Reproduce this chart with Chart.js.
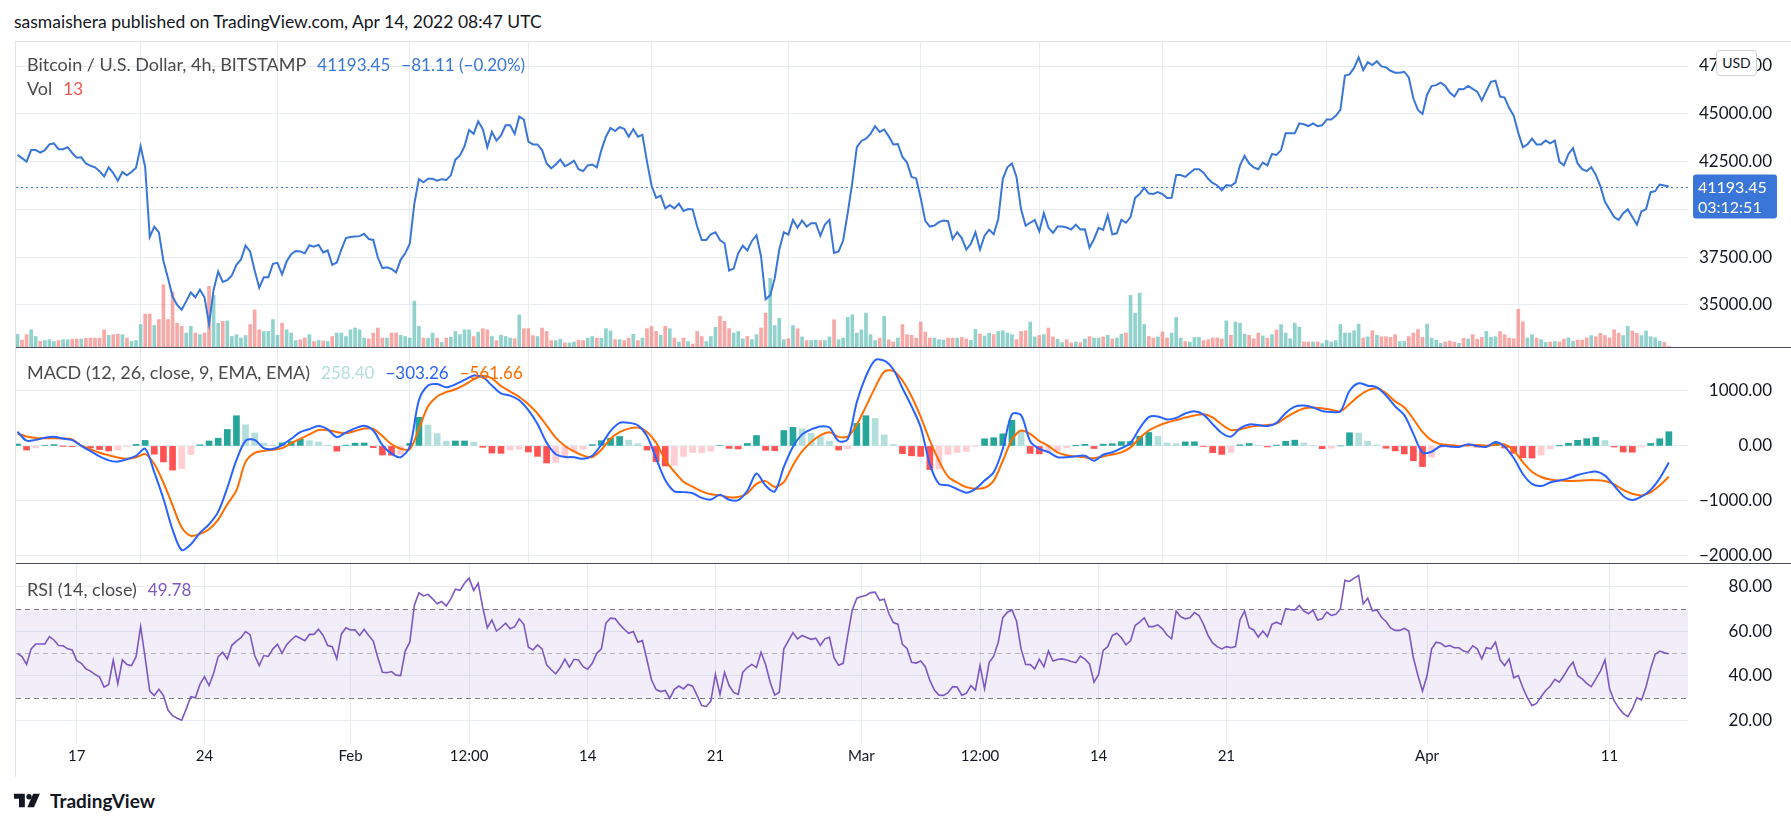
<!DOCTYPE html>
<html>
<head>
<meta charset="utf-8">
<script src="https://cdn.jsdelivr.net/npm/chart.js@4.4.1/dist/chart.umd.min.js"></script>
<style>
  html, body { margin: 0; padding: 0; background: #ffffff; }
  body { width: 1791px; height: 825px; position: relative; overflow: hidden;
         font-family: Lato, "Open Sans", sans-serif; color: #131722; }
  .abs { position: absolute; white-space: nowrap; }
  .pane { position: absolute; left: 16px; width: 1775px; }
  #frame { position: absolute; left: 15px; top: 41px; width: 1776px; height: 735px;
           border-left: 1px solid #e0e3eb; border-top: 1px solid #e0e3eb; }
  .sep { position: absolute; left: 16px; width: 1775px; height: 1px; background: #4a4e59; }
  .legend { font-size: 18px; line-height: 22px; color: #4a4a4a; }
  .legend span { margin-left: 11px; font-size: 17px; }
  #usd { position: absolute; left: 1716px; top: 50px; width: 41px; height: 26px; box-sizing: border-box;
         border: 1px solid #d1d4dc; border-radius: 4px; background: #fff; font-size: 14px;
         line-height: 24px; text-align: center; color: #131722; }
  #logo { position: absolute; left: 14px; top: 789px; display: flex; align-items: center; }
  #logo b { font-size: 19px; margin-left: 6px; color: #131722; }
</style>
</head>
<body>
<div class="abs" style="left:14px; top:11px; font-size:17.5px; line-height:22px; color:#131722;">sasmaishera published on TradingView.com, Apr 14, 2022 08:47 UTC</div>
<div id="frame"></div>

<div class="pane" style="top:41px; height:306px;"><canvas id="priceChart"></canvas></div>
<div class="sep" style="top:347px;"></div>
<div class="pane" style="top:348px; height:215px;"><canvas id="macdChart"></canvas></div>
<div class="sep" style="top:563px;"></div>
<div class="pane" style="top:564px; height:211px;"><canvas id="rsiChart"></canvas></div>

<div class="abs legend" style="left:27px; top:53px;">Bitcoin / U.S. Dollar, 4h, BITSTAMP<span style="color:#3a76d8">41193.45</span><span style="color:#3a76d8">−81.11 (−0.20%)</span></div>
<div class="abs legend" style="left:27px; top:77px;">Vol<span style="color:#ef5350">13</span></div>
<div class="abs legend" style="left:27px; top:361px;">MACD (12, 26, close, 9, EMA, EMA)<span style="color:#b2dfdb">258.40</span><span style="color:#2962ff">−303.26</span><span style="color:#ff6d00">−561.66</span></div>
<div class="abs legend" style="left:27px; top:578px;">RSI (14, close)<span style="color:#7e57c2">49.78</span></div>
<div id="usd">USD</div>

<div id="logo">
  <svg width="30" height="17" viewBox="0 0 36 20">
    <path d="M0 2h13v16H6V8H0z" fill="#131722"/>
    <circle cx="18" cy="5.5" r="3.2" fill="#131722"/>
    <path d="M23 2h8l-7 16h-8z" fill="#131722"/>
  </svg>
  <b>TradingView</b>
</div>

<script>
// Values. Time unit: days relative to Jan 17 2022 00:00 UTC.
// Price, volume and RSI are read every 6h, MACD every 12h.
const START_DAY = -3.25;
const STEP_FINE = 0.25;
const STEP_MACD = 0.5;
const X_MIN = -3.33;
const X_MAX = 88.3;

// time axis
const tickDays = [0, 7, 15, 21.5, 28, 35, 43, 49.5, 56, 63, 74, 84];
const tickLabels = ["17", "24", "Feb", "12:00", "14", "21", "Mar", "12:00", "14", "21", "Apr", "11"];

// right axes
const priceTicks = [35000, 37500, 40000, 42500, 45000, 47500];
const macdTicks = [-2000, -1000, 0, 1000];
const rsiTicks = [20, 40, 60, 80];
const rsiLevels = [30, 50, 70];
const lastPrice = 41193.45;

// BTC/USD close, 6h
const closes = [
  42850, 42680, 42500, 43100, 43100, 42970, 43100, 43400, 43450, 43150,
  43150, 43250, 42950, 42700, 42720, 42400, 42280, 42200, 42000, 41720,
  42200, 41900, 41500, 41950, 41780, 41950, 42180, 43300, 42200, 38550,
  39100, 38800, 37300, 36400, 35450, 35000, 34750, 35200, 35650, 35400,
  35800, 35400, 34000, 35800, 36750, 36200, 36300, 36550, 37100, 37380,
  38100, 37800, 36800, 35900, 36450, 36450, 37150, 37200, 36600, 37270,
  37650, 37820, 37800, 37700, 38120, 38050, 38150, 37750, 37850, 37100,
  37220, 37900, 38500, 38550, 38580, 38600, 38720, 38450, 38400, 37480,
  36930, 36970, 36880, 36700, 37360, 37700, 38200, 40300, 41580, 41420,
  41600, 41600, 41500, 41580, 41540, 41780, 42600, 42820, 43300, 44150,
  43950, 44600, 44200, 43250, 44050, 43600, 43870, 44400, 44400, 43950,
  44850, 44700, 43550, 43400, 43400, 43100, 42400, 42150, 42350, 42600,
  42260, 42380, 42550, 42100, 42000, 42300, 42350, 42200, 43100, 43800,
  44260, 44100, 44300, 44220, 43800, 44200, 43800, 43900, 42500, 41250,
  40600, 40720, 40050, 40220, 40050, 40300, 39920, 40020, 40000, 39100,
  38400, 38400, 38700, 38800, 38400, 38230, 36800, 36900, 37700, 38100,
  37850, 38350, 38650, 37550, 35300, 35500, 36400, 37900, 38800, 38680,
  39450, 39050, 39420, 39100, 39280, 39280, 38620, 39200, 39450, 37720,
  37800, 38370, 39800, 41400, 43250, 43580, 43700, 43950, 44350, 44050,
  44180, 43820, 43400, 43420, 42740, 42450, 41700, 41620, 40600, 39400,
  39100, 39150, 39330, 39420, 39380, 38450, 38800, 38500, 37900, 38200,
  38800, 37900, 38620, 38930, 38700, 39500, 41600, 42200, 42400, 41700,
  40000, 39150, 39300, 39440, 38850, 39800, 39050, 38770, 39100, 39100,
  39050, 38950, 39200, 38950, 38960, 38000, 38450, 39030, 38930, 39700,
  38700, 38750, 39450, 39300, 39600, 40600, 40800, 41130, 40830, 40810,
  40900, 40800, 40590, 40600, 41800, 41800, 41700, 41900, 42100, 42100,
  41920, 41600, 41380, 41250, 41000, 41270, 41230, 41400, 42300, 42800,
  42400, 42200, 42100, 42450, 42300, 42900, 42850, 43100, 43980, 43980,
  43980, 44500, 44450, 44360, 44500, 44350, 44400, 44700, 44700, 44890,
  45200, 47000, 47060, 47400, 47950, 47280, 47700, 47550, 47750, 47480,
  47430, 47250, 47150, 47150, 47200, 46900, 45800, 45200, 44990, 46000,
  46450, 46500, 46630, 46450, 46100, 45900, 46300, 46280, 46460, 46300,
  46160, 45700, 46200, 46670, 46730, 45900, 45850, 45300, 44900, 44000,
  43250, 43400, 43700, 43400, 43400, 43600, 43450, 43600, 42500, 42300,
  42900, 43200, 42400, 42100, 42000, 42200, 41800, 41200, 40400, 40000,
  39600, 39450, 39800, 40000, 39600, 39200, 39900, 40000, 40900, 40950,
  41300, 41250, 41193.45
];

// volume (BTC), 6h
const volumes = [
  275, 150, 270, 375, 230, 125, 140, 160, 120, 140,
  160, 160, 170, 175, 175, 190, 195, 195, 195, 375,
  255, 270, 280, 270, 195, 120, 140, 490, 720, 720,
  470, 600, 1360, 600, 1200, 520, 450, 305, 450, 305,
  270, 305, 1325, 1125, 520, 560, 570, 230, 270, 195,
  250, 490, 810, 375, 340, 340, 600, 255, 520, 375,
  305, 140, 160, 195, 270, 120, 140, 130, 120, 230,
  305, 305, 230, 375, 415, 375, 195, 175, 305, 415,
  195, 195, 305, 305, 255, 230, 195, 1000, 450, 195,
  195, 305, 195, 100, 195, 210, 340, 270, 375, 375,
  230, 325, 400, 375, 230, 140, 260, 230, 195, 180,
  700, 400, 400, 250, 230, 415, 340, 140, 140, 170,
  90, 90, 110, 150, 140, 195, 230, 195, 190, 400,
  350, 160, 160, 140, 195, 280, 140, 195, 400, 450,
  340, 255, 450, 400, 195, 110, 195, 120, 65, 340,
  230, 120, 230, 430, 670, 560, 400, 305, 340, 180,
  230, 160, 270, 415, 740, 1500, 470, 625, 160, 180,
  470, 400, 220, 140, 140, 150, 140, 140, 220, 595,
  160, 195, 645, 705, 305, 375, 740, 270, 140, 195,
  670, 160, 110, 195, 490, 270, 255, 195, 545, 325,
  195, 195, 160, 150, 195, 195, 195, 210, 175, 145,
  385, 280, 240, 300, 270, 340, 355, 305, 270, 160,
  340, 355, 545, 220, 250, 270, 415, 220, 170, 95,
  160, 90, 110, 95, 175, 225, 195, 195, 220, 255,
  175, 195, 280, 305, 1125, 740, 1175, 490, 230, 195,
  220, 330, 195, 305, 645, 195, 120, 110, 210, 210,
  140, 160, 195, 200, 175, 570, 255, 545, 520, 280,
  255, 180, 300, 240, 195, 270, 370, 490, 305, 180,
  520, 435, 110, 110, 110, 110, 75, 145, 110, 140,
  490, 305, 305, 355, 500, 195, 220, 355, 255, 225,
  225, 210, 270, 120, 120, 230, 305, 380, 210, 500,
  195, 145, 80, 110, 130, 110, 80, 190, 175, 270,
  170, 210, 340, 210, 225, 340, 270, 195, 180, 825,
  550, 195, 270, 195, 160, 100, 110, 120, 110, 175,
  200, 125, 150, 150, 200, 250, 225, 300, 250, 200,
  375, 300, 250, 450, 350, 300, 250, 350, 225, 200,
  125, 100, 13
];

// RSI (14, close), 6h
const rsi = [
  50, 48.5, 45, 52, 54.2, 54.2, 54.2, 57.5, 56, 53.5,
  53.4, 52, 51.5, 46.7, 45.5, 43, 42, 40.5, 39.3, 34.8,
  36, 47, 36.3, 47, 45, 44.5, 48.5, 62, 48, 33,
  31, 33.8, 31, 24.5, 22, 20.8, 19.9, 25, 30.5, 30,
  36, 39.5, 35.5, 41, 48.5, 50.5, 47.5, 53.6, 55.5, 57,
  59.8, 58.4, 49, 44.5, 49, 48.6, 52, 54, 50, 53.9,
  56, 57.8, 56.8, 55.7, 58.5, 58.5, 60.8, 58, 53.5, 53,
  47.5, 58.6, 61.5, 60.5, 60.6, 58, 60.8, 58, 55.5, 48,
  41.5, 41.3, 41.8, 40.2, 40, 51, 55, 71.5, 77.2, 75.8,
  76.5, 74.5, 72.3, 73.3, 71.3, 74.5, 78.8, 78.3, 81.5, 83.8,
  78.3, 81.5, 70.5, 61.5, 65, 60, 61.6, 63.5, 61, 62,
  65.5, 63, 52.7, 51.5, 53.8, 52, 44.8, 42.6, 40.8, 43.6,
  47.4, 43.8, 47.3, 47, 44, 42.8, 45.5, 50, 52, 63.6,
  65.8, 65.6, 63, 60.8, 59, 59.8, 55, 55.7, 47, 38,
  33.7, 32.8, 33.3, 29.7, 33.8, 35.3, 34, 36, 35.2, 31,
  26.5, 26.1, 28.5, 40.5, 31.5, 41.5, 35.5, 32.4, 31.5, 41.5,
  43.6, 45, 43.6, 50.5, 45, 37, 31.2, 32.5, 52, 55.7,
  59.3, 56.5, 58, 57.1, 56.3, 56.8, 53.5, 56.5, 57.2, 48,
  44.6, 45.5, 58, 69.5, 74.8, 75.5, 76, 77.3, 77.5, 73.8,
  74.3, 68, 63.8, 63.1, 54, 52.2, 46, 45.6, 46.5, 44,
  37.8, 33.5, 31.2, 31.1, 32.3, 35, 34.8, 31.2, 32, 35.5,
  33.5, 44.5, 34, 45.8, 48.7, 55, 66, 68.5, 69.5, 64.5,
  52, 45, 44.9, 43, 47.4, 44, 51, 46.5, 47.2, 47.5,
  47, 46.3, 45.8, 48.7, 47.4, 45.2, 37, 40.5, 51.3, 53,
  58, 59, 57, 53.8, 55.6, 62.5, 64, 66, 62, 62,
  62.8, 61, 58.2, 56.5, 69, 66.4, 65.5, 66, 68.3, 67,
  63, 58, 54.7, 53, 52, 53, 52.5, 53, 65.1, 69,
  61.5, 60.5, 57.3, 60, 57.5, 63, 64, 63, 70.1, 69.7,
  69.4, 71.5, 69, 67.8, 69.4, 65, 65.5, 68.5, 67, 67.5,
  70, 82.8, 82.3, 83.8, 85, 72.2, 74.8, 69.1, 69.5, 66.2,
  64.3, 61.4, 60.3, 60.3, 61.2, 60, 48, 40, 33, 40,
  52, 55, 54.5, 53, 53.5, 52.5, 52.5, 51, 50.5, 53.4,
  52, 47.5, 52.5, 52, 55, 47, 44.5, 47.5, 39, 40,
  34.5, 30, 26.5, 27.5, 30.5, 33.3, 35.2, 38.3, 37, 40,
  43.5, 46, 40, 38.5, 36.5, 35, 38.5, 42, 47, 34,
  28.7, 25.5, 23, 21.5, 25, 30, 29, 35, 43, 49.5,
  51, 50.2, 49.78
];

// MACD (12, 26, close, 9), 12h
const macdLine = [
  260, 95, 110, 148, 165, 135, 105, 0, -96, -190,
  -262, -285, -240, -180, -50, -480, -960, -1520, -1895, -1790,
  -1580, -1425, -1200, -760, -260, 95, 110, -40, -54, 15,
  130, 250, 305, 362, 300, 160, 245, 320, 368, 280,
  15, -140, -205, -13, 830, 1100, 1125, 1066, 1120, 1200,
  1280, 1250, 1100, 955, 915, 830, 650, 400, 60, -150,
  -200, -205, -235, -180, 25, 270, 420, 420, 375, 180,
  -225, -620, -825, -840, -860, -945, -975, -890, -980, -985,
  -815, -500, -720, -830, -380, -13, 210, 300, 355, 335,
  90, 120, 800, 1270, 1560, 1550, 1390, 1050, 720, 340,
  -330, -690, -715, -785, -850, -780, -630, -480, -50, 575,
  560, 85, -55, -110, -205, -205, -187, -178, -270, -160,
  -115, -40, 55, 320, 525, 537, 480, 510, 590, 630,
  570, 395, 235, 170, 320, 390, 380, 362, 420, 600,
  715, 735, 700, 635, 617, 630, 1000, 1140, 1096, 1066,
  918, 720, 560, 220, -120, -105, 0, -10, -18, 30,
  -3, -15, 70, -13, -220, -510, -690, -730, -665, -628,
  -590, -530, -490, -465, -540, -720, -910, -985, -920, -800,
  -590, -303.26
];
const signalLine = [
  225, 170, 145, 140, 140, 137, 120, 5, -60, -125,
  -170, -210, -235, -207, -150, -330, -670, -1080, -1480, -1635,
  -1600, -1515, -1340, -1060, -809, -290, -125, -90, -70, -40,
  50, 130, 210, 290, 285, 255, 230, 270, 315, 310,
  180, 30, -50, -60, 310, 720, 900, 980, 1030, 1110,
  1210, 1275, 1230, 1090, 990, 890, 760, 590, 370, 150,
  0, -100, -175, -203, -70, 130, 249, 315, 335, 255,
  60, -255, -470, -650, -740, -825, -880, -899, -935, -930,
  -860, -690, -640, -745, -660, -350, -100, 70, 190, 248,
  165, 170, 390, 720, 1060, 1350, 1365, 1190, 900, 530,
  100, -270, -560, -665, -750, -778, -760, -630, -270, 110,
  280, 220, 90, 0, -118, -170, -190, -207, -223, -192,
  -155, -118, -26, 145, 280, 365, 425, 470, 516, 555,
  575, 518, 390, 290, 300, 345, 367, 380, 405, 515,
  610, 680, 700, 685, 658, 630, 760, 905, 1010, 1048,
  960, 810, 705, 490, 255, 100, 32, 18, 0, 10,
  18, 3, 20, 25, -85, -295, -470, -565, -612, -630,
  -638, -632, -622, -622, -638, -700, -800, -870, -900, -845,
  -720, -561.66
];
const histogram = [
  35, -75, -35, 8, 25, -2, -15, -5, -36, -65,
  -92, -75, -5, 27, 100, -150, -290, -440, -415, -155,
  20, 90, 140, 300, 549, 385, 235, 50, 16, 55,
  80, 120, 95, 72, 15, -95, 15, 50, 53, -30,
  -165, -170, -155, 47, 520, 380, 225, 86, 90, 90,
  70, -25, -130, -135, -75, -60, -110, -190, -310, -300,
  -200, -105, -60, 23, 95, 140, 171, 105, 40, -75,
  -285, -365, -355, -190, -120, -120, -95, 9, -45, -55,
  45, 190, -80, -85, 280, 337, 310, 230, 165, 87,
  -75, -50, 410, 550, 500, 200, 25, -140, -180, -190,
  -430, -420, -155, -120, -100, -2, 130, 150, 220, 465,
  280, -135, -145, -110, -87, -35, 3, 29, -47, 32,
  40, 78, 81, 175, 245, 172, 55, 40, 74, 75,
  -5, -123, -155, -120, 20, 45, 13, -18, 15, 85,
  105, 55, 0, -50, -41, 0, 240, 235, 86, 18,
  -42, -90, -145, -270, -375, -205, -32, -28, -18, 20,
  -21, -18, 50, -38, -135, -215, -220, -165, -53, 2,
  48, 102, 132, 157, 98, -20, -110, -115, -20, 45,
  130, 258.40
];

const FONT = "Lato, 'Open Sans', sans-serif";
const TEXT = "#131722";
const GRID = "#e7ecf2";
const PRICE_COLOR = "#3a76d8";
const LABEL_RIGHT = 1756; // right edge of the axis labels, canvas px

Chart.defaults.font.family = FONT;
Chart.defaults.animation = false;

const series = (arr, step) => arr.map((v, i) => ({ x: START_DAY + i * step, y: v }));
const fmt = (v) => v.toFixed(2).replace("-", "\u2212");

function xAxis(showLabels) {
    return {
        type: "linear",
        min: X_MIN,
        max: X_MAX,
        offset: false,
        afterBuildTicks: (axis) => {
            axis.ticks = tickDays.map((v) => ({ value: v }));
        },
        grid: { color: GRID, drawTicks: false },
        border: { display: false },
        ticks: {
            display: showLabels,
            autoSkip: false,
            maxRotation: 0,
            padding: 3,
            color: TEXT,
            font: { size: 15 },
            callback: (v, i) => tickLabels[i],
        },
        afterFit: (s) => {
            s.height = showLabels ? 31 : 0;
            s.paddingLeft = 0;
            s.paddingRight = 0;
        },
    };
}

function yAxis(min, max, ticks) {
    return {
        position: "right",
        min: min,
        max: max,
        afterBuildTicks: (axis) => {
            axis.ticks = ticks.map((v) => ({ value: v }));
        },
        grid: { color: GRID, drawTicks: false },
        border: { display: false },
        ticks: { display: false },
        afterFit: (s) => {
            s.width = 103;
            s.paddingTop = 0;
            s.paddingBottom = 0;
        },
    };
}

const baseOptions = {
    responsive: true,
    maintainAspectRatio: false,
    devicePixelRatio: 1,
    layout: { padding: 0 },
    plugins: { legend: { display: false }, tooltip: { enabled: false } },
    elements: { point: { radius: 0 } },
};

// right aligned price-scale labels
const rightLabels = {
    id: "rightLabels",
    afterDraw(chart) {
        const { ctx, scales } = chart;
        ctx.save();
        ctx.fillStyle = TEXT;
        ctx.font = "17px " + FONT;
        ctx.textAlign = "right";
        ctx.textBaseline = "middle";
        scales.y.ticks.forEach((t) => {
            ctx.fillText(fmt(t.value), LABEL_RIGHT, scales.y.getPixelForValue(t.value));
        });
        ctx.restore();
    },
};

// dotted last-price line and the blue price label on the axis
const lastPriceMarker = {
    id: "lastPriceMarker",
    beforeDatasetsDraw(chart) {
        const { ctx, chartArea, scales } = chart;
        const y = Math.round(scales.y.getPixelForValue(lastPrice)) + 0.5;
        ctx.save();
        ctx.strokeStyle = PRICE_COLOR;
        ctx.lineWidth = 1;
        ctx.setLineDash([2, 3]);
        ctx.beginPath();
        ctx.moveTo(chartArea.left, y);
        ctx.lineTo(chartArea.right, y);
        ctx.stroke();
        ctx.restore();
    },
    afterDraw(chart) {
        const { ctx, chartArea, scales } = chart;
        const y = scales.y.getPixelForValue(lastPrice);
        const x0 = chartArea.right + 5;
        ctx.save();
        ctx.fillStyle = PRICE_COLOR;
        ctx.beginPath();
        ctx.roundRect(x0, y - 12, 84, 44, 3);
        ctx.fill();
        ctx.fillStyle = "#ffffff";
        ctx.font = "16px " + FONT;
        ctx.textBaseline = "middle";
        ctx.fillText("41193.45", x0 + 5, y + 1);
        ctx.fillText("03:12:51", x0 + 5, y + 21);
        ctx.restore();
    },
};

// RSI band 30-70 with dashed levels
const rsiBand = {
    id: "rsiBand",
    beforeDatasetsDraw(chart) {
        const { ctx, chartArea, scales } = chart;
        const yTop = scales.y.getPixelForValue(rsiLevels[2]);
        const yMid = scales.y.getPixelForValue(rsiLevels[1]);
        const yBot = scales.y.getPixelForValue(rsiLevels[0]);
        ctx.save();
        ctx.fillStyle = "rgba(126, 87, 194, 0.1)";
        ctx.fillRect(chartArea.left, yTop, chartArea.right - chartArea.left, yBot - yTop);
        ctx.lineWidth = 1;
        ctx.setLineDash([5, 4]);
        [[yTop, "#787b86"], [yMid, "rgba(120, 123, 134, 0.5)"], [yBot, "#787b86"]].forEach(([y, c]) => {
            ctx.strokeStyle = c;
            ctx.beginPath();
            ctx.moveTo(chartArea.left, Math.round(y) + 0.5);
            ctx.lineTo(chartArea.right, Math.round(y) + 0.5);
            ctx.stroke();
        });
        ctx.restore();
    },
};

const volColors = closes.map((c, i) =>
    i === 0 || c >= closes[i - 1] ? "rgba(38, 166, 154, 0.5)" : "rgba(239, 83, 80, 0.5)"
);

const histColors = histogram.map((h, i) => {
    const prev = i > 0 ? histogram[i - 1] : h;
    if (h >= 0) return h >= prev ? "#26a69a" : "#b2dfdb";
    return h < prev ? "#ff5252" : "#ffcdd2";
});

new Chart(document.getElementById("priceChart"), {
    type: "line",
    data: {
        datasets: [
            {
                type: "line",
                data: series(closes, STEP_FINE),
                borderColor: PRICE_COLOR,
                borderWidth: 2,
                tension: 0,
                yAxisID: "y",
                order: 0,
            },
            {
                type: "bar",
                data: series(volumes, STEP_FINE),
                backgroundColor: volColors,
                barThickness: 3,
                yAxisID: "vol",
                order: 1,
            },
        ],
    },
    options: {
        ...baseOptions,
        scales: {
            x: xAxis(false),
            y: yAxis(32800, 48808, priceTicks),
            vol: { display: false, min: 0, max: 6680 },
        },
    },
    plugins: [rightLabels, lastPriceMarker],
});

new Chart(document.getElementById("macdChart"), {
    type: "line",
    data: {
        datasets: [
            {
                type: "line",
                data: series(macdLine, STEP_MACD),
                borderColor: "#2962ff",
                borderWidth: 2,
                tension: 0.3,
                order: 0,
            },
            {
                type: "line",
                data: series(signalLine, STEP_MACD),
                borderColor: "#ff6d00",
                borderWidth: 2,
                tension: 0.3,
                order: 1,
            },
            {
                type: "bar",
                data: series(histogram, STEP_MACD),
                backgroundColor: histColors,
                barThickness: 6,
                order: 2,
            },
        ],
    },
    options: {
        ...baseOptions,
        scales: {
            x: xAxis(false),
            y: yAxis(-2129, 1781, macdTicks),
        },
    },
    plugins: [rightLabels],
});

new Chart(document.getElementById("rsiChart"), {
    type: "line",
    data: {
        datasets: [
            {
                data: series(rsi, STEP_FINE),
                borderColor: "#7e57c2",
                borderWidth: 1.6,
                tension: 0,
            },
        ],
    },
    options: {
        ...baseOptions,
        scales: {
            x: xAxis(true),
            y: yAxis(9.23, 90.15, rsiTicks),
        },
    },
    plugins: [rsiBand, rightLabels],
});
</script>
</body>
</html>
